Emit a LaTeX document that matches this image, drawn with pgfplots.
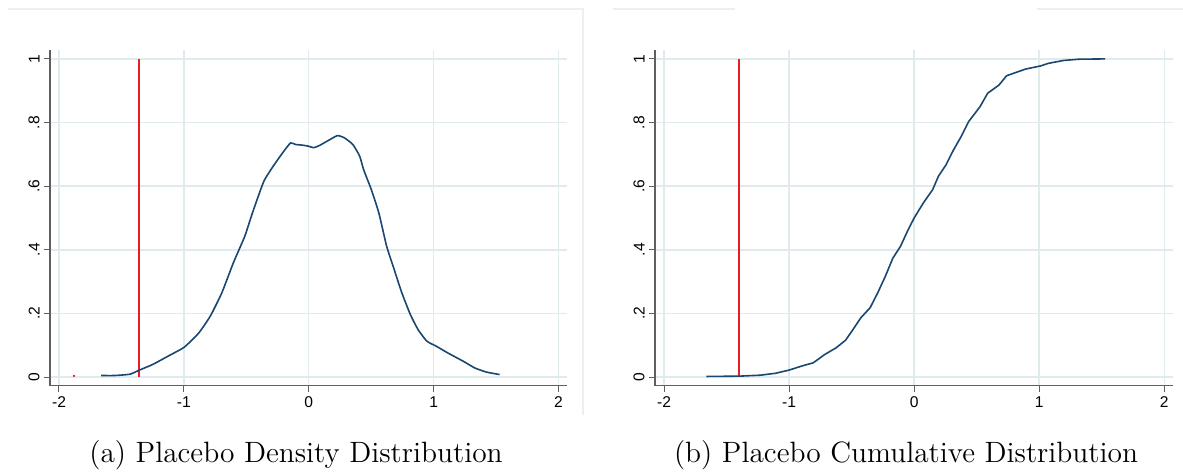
\documentclass[border=0pt]{standalone}
\usepackage{fontspec}
\usepackage{pgfplots}
\pgfplotsset{compat=1.18}
\newfontfamily\arialf{Liberation Sans}

\definecolor{stnavy}{RGB}{26,71,111}
\definecolor{stred}{RGB}{232,28,36}
\definecolor{stgrid}{RGB}{224,235,238}
\definecolor{staxis}{RGB}{95,95,95}
\definecolor{stframe}{RGB}{234,240,242}

\pgfplotsset{
  stata/.style={
    scale only axis,
    height=167.85pt,
    xmin=-2.072, xmax=2.07,
    ymin=-0.027, ymax=1.028,
    axis x line*=bottom, axis y line*=left,
    axis line style={staxis, line width=0.6pt},
    xtick={-2,-1,0,1,2}, xticklabels={-2,-1,0,1,2},
    ytick={0,0.2,0.4,0.6,0.8,1}, yticklabels={0,.2,.4,.6,.8,1},
    tick align=outside, major tick length=3pt,
    tick style={staxis, line width=0.5pt},
    grid=major, major grid style={stgrid, line width=0.7pt},
    ticklabel style={font=\fontsize{7.8}{8}\arialf, text=black},
    yticklabel style={rotate=90, anchor=south, inner sep=2pt},
    xticklabel style={anchor=north, inner sep=2.4pt},
    clip=false,
  }
}

\begin{document}
\begin{tikzpicture}
\path[use as bounding box] (0,0) rectangle (591.5pt,237.5pt);

% faint graph-region frames
\draw[stframe, line width=0.6pt] (4pt,233pt) -- (291.5pt,233pt) -- (291.5pt,30pt);
\draw[stframe, line width=0.6pt] (306.5pt,233pt) -- (367.5pt,233pt);
\draw[stframe, line width=0.6pt] (518.5pt,233pt) -- (591.5pt,233pt);

% (a) density
\begin{axis}[stata, width=258.65pt, at={(25pt,44.65pt)}, anchor=south west]
\addplot[stred, line width=1pt] coordinates {(-1.356,0) (-1.356,1)};
\addplot[only marks, mark=*, mark size=0.35pt, stred] coordinates {(-1.88,0.004)};
\addplot[stnavy, line width=0.8pt, smooth, tension=0.3] coordinates {
(-1.663,0.005) (-1.555,0.005) (-1.433,0.009) (-1.356,0.022) (-1.248,0.040)
(-1.126,0.066) (-0.997,0.094) (-0.880,0.139) (-0.788,0.192) (-0.696,0.265)
(-0.604,0.359) (-0.512,0.443) (-0.451,0.516) (-0.359,0.616) (-0.267,0.673)
(-0.190,0.715) (-0.145,0.736) (-0.105,0.731) (-0.052,0.729) (-0.006,0.726)
(0.040,0.721) (0.086,0.728) (0.163,0.745) (0.230,0.759) (0.285,0.752)
(0.353,0.731) (0.408,0.694) (0.439,0.652) (0.500,0.590) (0.561,0.516)
(0.623,0.412) (0.684,0.338) (0.745,0.265) (0.813,0.197) (0.874,0.150)
(0.945,0.113) (1.021,0.097) (1.113,0.076) (1.236,0.050) (1.328,0.029)
(1.420,0.016) (1.528,0.008)};
\end{axis}

% (b) cumulative
\begin{axis}[stata, width=259pt, at={(327.5pt,44.65pt)}, anchor=south west]
\addplot[stred, line width=1pt] coordinates {(-1.397,0.003) (-1.397,1)};
\addplot[stnavy, line width=0.8pt] coordinates {
(-1.661,0.002) (-1.397,0.003) (-1.230,0.006) (-1.109,0.012) (-1.000,0.022)
(-0.897,0.035) (-0.806,0.045) (-0.715,0.071) (-0.624,0.092) (-0.548,0.116)
(-0.488,0.150) (-0.427,0.186) (-0.352,0.218) (-0.291,0.265) (-0.230,0.317)
(-0.170,0.374) (-0.109,0.411) (-0.048,0.463) (0.000,0.500) (0.073,0.547)
(0.148,0.589) (0.194,0.631) (0.255,0.667) (0.315,0.714) (0.376,0.756)
(0.436,0.803) (0.527,0.850) (0.588,0.892) (0.679,0.918) (0.739,0.947)
(0.891,0.968) (1.012,0.978) (1.073,0.986) (1.194,0.995) (1.315,0.999)
(1.527,1.000)};
\end{axis}

\node[anchor=base, inner sep=0pt, font=\fontsize{14.7}{17}\selectfont] at (148pt,6pt) {(a) Placebo Density Distribution};
\node[anchor=base, inner sep=0pt, font=\fontsize{14.7}{17}\selectfont] at (453pt,6pt) {(b) Placebo Cumulative Distribution};
\end{tikzpicture}
\end{document}
